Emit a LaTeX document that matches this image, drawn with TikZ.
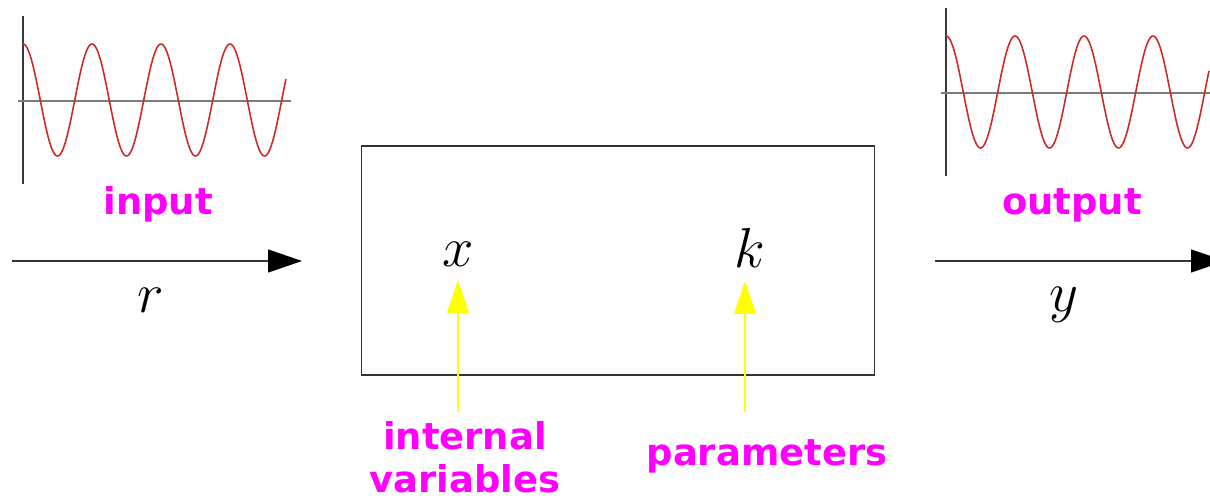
\documentclass[tikz,border=0pt]{standalone}
\usepackage{graphicx}
\usepackage{fontspec}
\newfontfamily\tagfont{DejaVu Sans}
\usetikzlibrary{arrows.meta}
\newcommand{\bigsym}[1]{\scalebox{1.29}{$#1$}}
\definecolor{wavered}{HTML}{CC2A2A}
\definecolor{axisgrey}{HTML}{7A7A7A}
\definecolor{axisdark}{HTML}{3A3A3A}
\definecolor{boxline}{HTML}{333333}
\definecolor{tagmagenta}{HTML}{FF00FF}
\definecolor{pointeryellow}{HTML}{FFFF00}

\begin{document}
\begin{tikzpicture}[
  x=0.02cm,
  y=-0.02cm,
  every node/.style={inner sep=0pt, outer sep=0pt},
  tag/.style={font=\tagfont\bfseries\fontsize{21}{24.5}\selectfont,
              text=tagmagenta, align=center},
  symbol/.style={font=\fontsize{24.88}{30}\selectfont, inner sep=0.26cm},
  sysbox/.style={draw=boxline, line width=0.6pt,
                 minimum width=10.28cm, minimum height=4.58cm},
  wave/.style={wavered, line width=0.9pt},
  haxis/.style={axisgrey, line width=0.7pt},
  vaxis/.style={axisdark, line width=0.6pt},
  signal/.style={black!80, line width=0.7pt,
                 -{Triangle[length=0.68cm, width=0.46cm, color=black]}},
  pointer/.style={pointeryellow, line width=0.6pt,
                  -{Triangle[length=0.66cm, width=0.44cm]}}
]
  % ---- page frame, same size as the source image ----
  \useasboundingbox (0,0) rectangle (1210,502);

  % ---- input signal plot (period 69) ----
  \draw[vaxis] (23,16) -- (23,184);
  \draw[haxis] (18,101) -- (291,101);
  \draw[wave] plot[domain=23:286, samples=200, smooth]
    (\x,{100-56*cos(5.2174*(\x-23))});

  % ---- output signal plot ----
  \draw[vaxis] (946,8) -- (946,176);
  \draw[haxis] (941,93) -- (1210,93);
  \draw[wave] plot[domain=946:1209, samples=200, smooth]
    (\x,{92-56*cos(5.2174*(\x-946))});

  % ---- the system ----
  \node[sysbox] (plant) at (618,260.5) {};
  \node[symbol, anchor=base] (xvar) at (458,267) {\bigsym{x}};
  \node[symbol, anchor=base] (kpar) at (750,268) {\bigsym{k}};

  % ---- signals in and out ----
  \coordinate (rtail) at (12,261);
  \coordinate (rhead) at (302,261);
  \coordinate (ytail) at (935,261);
  \coordinate (yhead) at (1225,261);
  \draw[signal] (rtail) -- (rhead);
  \draw[signal] (ytail) -- (yhead);
  \node[symbol, anchor=base, inner sep=0pt] (rsym) at (151,313) {\bigsym{r}};
  \node[symbol, anchor=base, inner sep=0pt] (ysym) at (1064,312) {\bigsym{y}};

  % ---- magenta tags ----
  \node[tag, anchor=base] (intag) at (158,215) {input};
  \node[tag, anchor=base] (outtag) at (1072,215) {output};
  \node[tag, anchor=north] (vartag) at (465,421) {internal\\variables};
  \node[tag, anchor=base] (partag) at (767,466) {parameters};

  % ---- yellow pointers ----
  \coordinate (xfoot) at (458,412);
  \coordinate (kfoot) at (745,412);
  \draw[pointer] (xfoot) -- (xfoot |- xvar.south);
  \draw[pointer] (kfoot) -- (kfoot |- kpar.south);
\end{tikzpicture}
\end{document}
